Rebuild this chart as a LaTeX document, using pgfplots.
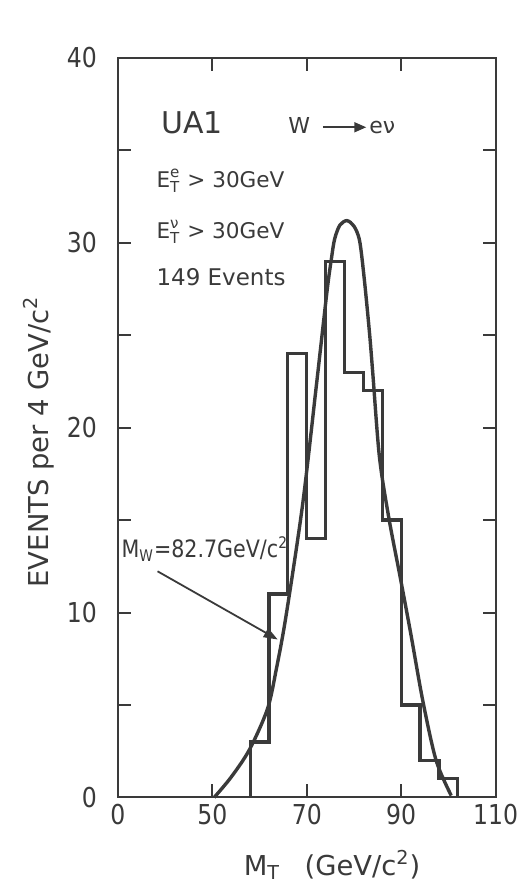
\documentclass[border=0pt]{standalone}
\usepackage{amsmath}
\usepackage{fontspec}
\setmainfont{DejaVu Sans}
\newfontfamily\narrowfont{DejaVu Sans}[FakeStretch=0.86]
\usepackage{pgfplots}
\pgfplotsset{compat=1.18}
\usetikzlibrary{arrows.meta}
\definecolor{ink}{HTML}{3A3A3A}

\begin{document}
\begin{tikzpicture}
% page frame (reference margins around the axis box)
\path (-59pt,-44pt) rectangle (196pt,399pt);
\begin{axis}[
  scale only axis, width=189pt, height=370pt,
  xmin=30, xmax=110, ymin=0, ymax=40,
  axis line style={ink, line width=1pt},
  tick align=inside, tick style={ink, line width=1pt},
  major tick length=6.5pt, minor tick length=6.5pt,
  xtick={30,50,70,90,110},
  xticklabels={0,{50\hspace{8pt}},70,90,110},
  ytick={0,10,20,30,40}, minor ytick={5,15,25,35},
  ticklabel style={font=\narrowfont\fontsize{13.7}{16}\selectfont, text=ink},
  /pgf/number format/assume math mode=true,
  yticklabel style={xshift=-7pt},
  xlabel={M\textsubscript{T}\hspace{0.9em}(GeV/c\textsuperscript{2})},
  ylabel={EVENTS per 4 GeV/c\textsuperscript{2}},
  label style={font=\fontsize{13.7}{16}\selectfont, text=ink},
  xlabel style={at={(axis description cs:0.567,-0.105)}, anchor=base},
  ylabel style={at={(axis description cs:-0.185,0.481)}, anchor=base},
  clip=false,
]
% histogram, 4 GeV bins
\addplot[const plot, ink, line width=1.6pt] coordinates {
  (58,0) (58,3) (62,11) (66,24) (70,14) (74,29) (78,23) (82,22)
  (86,15) (90,5) (94,2) (98,1) (102,1) (102,0)
};
% fitted curve
\addplot[smooth, ink, line width=1.7pt] coordinates {
  (50.4,0) (54,1.1) (57.9,2.6) (61.7,4.8) (63.6,7.0) (65.6,9.8)
  (69.1,15.8) (72,22.2) (74.3,27.4) (75.2,29.1) (75.9,30.2) (77,30.95)
  (78.5,31.2) (80,30.9) (81.2,30.1) (82.2,28.0) (83.3,25.1) (84,22.9)
  (85.4,18.4) (87.4,15.1) (89.8,11.9) (92,8.9) (94.6,5.2) (97.4,2.0)
  (100.6,0.1)
};

\node[anchor=base west, text=ink, inner sep=0pt, font=\fontsize{15}{18}\selectfont] at (axis cs:39.1,35.9) {UA1};
\node[anchor=base west, text=ink, inner sep=0pt, font=\fontsize{11}{13}\selectfont] at (axis cs:66.0,35.9) {W};
\draw[ink, line width=0.9pt, -{Triangle[length=6pt,width=5pt]}] (axis cs:73.4,36.25) -- (axis cs:82.6,36.25);
\node[anchor=base west, text=ink, inner sep=0pt, font=\fontsize{11}{13}\selectfont] at (axis cs:83.2,35.9) {eν};

\node[anchor=base west, text=ink, inner sep=0pt, font=\fontsize{10.8}{13}\selectfont] at (axis cs:38.1,33.0)
  {$\text{E}^{\text{e}}_{\text{T}}$ > 30GeV};
\node[anchor=base west, text=ink, inner sep=0pt, font=\fontsize{10.8}{13}\selectfont] at (axis cs:38.1,30.25)
  {$\text{E}^{\text{ν}}_{\text{T}}$ > 30GeV};
\node[anchor=base west, text=ink, inner sep=0pt, font=\fontsize{11.5}{14}\selectfont] at (axis cs:38.1,27.7)
  {149 Events};

\node[anchor=base west, text=ink, inner sep=0pt, font=\narrowfont\fontsize{12}{14}\selectfont] at (axis cs:30.7,12.97)
  {M\textsubscript{W}=82.7GeV/c\textsuperscript{2}};
\draw[ink, line width=0.9pt, -{Triangle[length=7pt,width=5pt]}] (axis cs:38.4,12.23) -- (axis cs:63.85,8.54);
\end{axis}
\end{tikzpicture}
\end{document}
